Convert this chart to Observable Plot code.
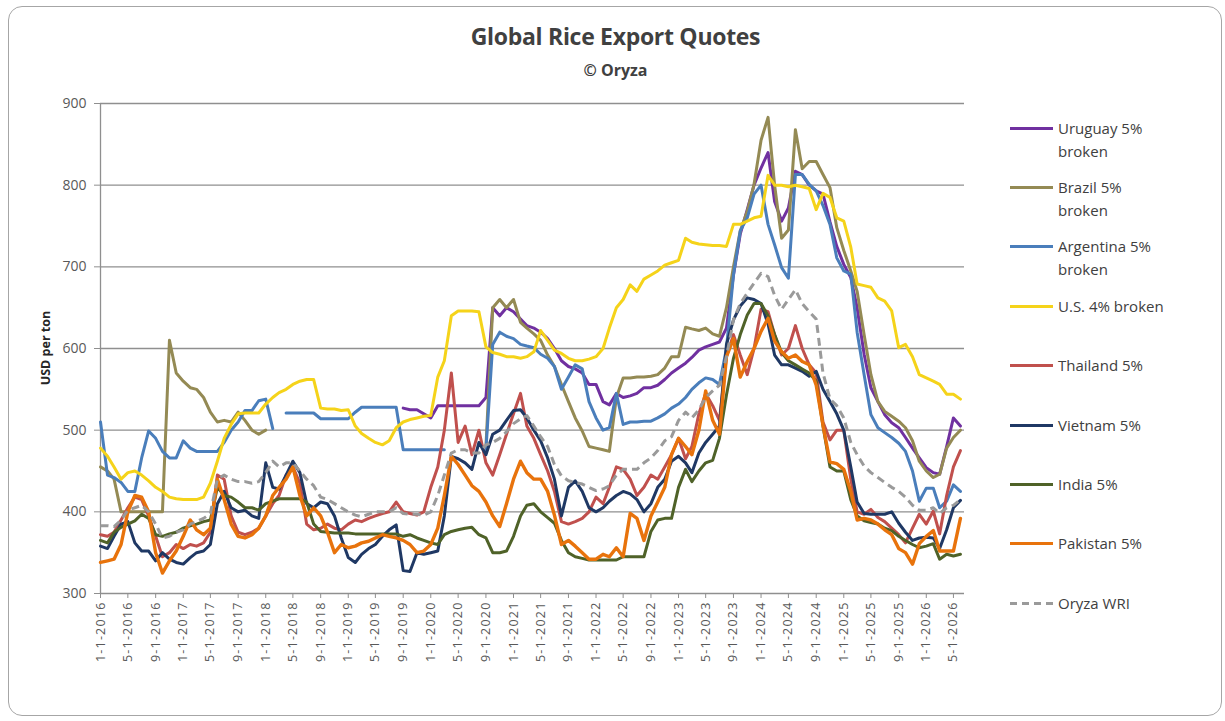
<!DOCTYPE html>
<html>
<head>
<meta charset="utf-8">
<script src="https://cdn.jsdelivr.net/npm/d3@7"></script>
<script src="https://cdn.jsdelivr.net/npm/@observablehq/plot@0.6"></script>
<style>
  html, body { margin: 0; padding: 0; background: #fff; }
  #wrap { position: relative; width: 1225px; height: 721px; overflow: hidden; font-family: "Open Sans", sans-serif; }
  #card { position: absolute; left: 8px; top: 6px; width: 1214px; height: 710px; border: 1px solid #a6a6a6; border-radius: 14px; box-sizing: border-box; }
  #title { position: absolute; left: 0; width: 1231px; top: 20px; text-align: center; font-weight: bold; font-size: 23px; color: #404040; letter-spacing: -0.3px; }
  #subtitle { position: absolute; left: 0; width: 1231px; top: 59px; text-align: center; font-weight: bold; font-size: 16px; color: #404040; }
  #ylabel { position: absolute; left: 45px; top: 348px; transform: translate(-50%, -50%) rotate(-90deg); font-weight: bold; font-size: 12.5px; color: #262626; white-space: nowrap; }
  #chart { position: absolute; left: 0; top: 90px; }
  .leg { position: absolute; left: 1008px; display: flex; align-items: flex-start; }
  .leg svg { flex: none; margin-top: 0; }
  .leg span { display: block; width: 110px; font-size: 15px; line-height: 23px; color: #404040; margin-left: 4px; }
  g[aria-label="x-axis tick label"] text { letter-spacing: 1.2px; }
</style>
</head>
<body>
<div id="wrap">
  <div id="card"></div>
  <div id="title">Global Rice Export Quotes</div>
  <div id="subtitle">© Oryza</div>
  <div id="ylabel">USD per ton</div>
  <div id="chart"></div>
  <div id="legend"></div>
</div>
<script>
const N = null;
// Monthly quotes, Jan 2016 .. Jun 2026 (USD per ton)
const uruguay = [
  N,N,N,N,N,N,N,N,N,N,N,N,
  N,N,N,N,N,N,N,N,N,N,N,N,
  N,N,N,N,N,N,N,N,N,N,N,N,
  N,N,N,N,N,N,N,N,527,525,525,520,
  515,530,530,530,530,530,530,530,540,650,640,650,
  645,636,628,625,620,612,600,585,578,575,570,556,
  556,535,531,545,540,542,545,552,552,555,562,570,
  576,582,589,598,602,605,608,625,690,740,770,800,
  821,840,780,756,772,817,813,800,793,789,755,725,
  703,687,650,593,552,535,519,509,503,491,478,466,
  454,448,446,480,515,505
];
const brazil = [
  455,450,440,400,400,400,400,400,400,400,610,570,
  560,552,550,540,522,510,512,510,522,512,500,495,
  500,N,N,N,N,N,N,N,N,N,N,N,
  N,N,N,N,N,N,N,N,N,N,N,N,
  N,N,N,N,N,N,N,N,480,650,660,650,
  660,632,625,618,610,592,578,556,535,515,499,480,
  478,476,474,540,564,564,565,565,566,568,576,590,
  590,626,624,622,625,618,615,650,700,744,768,801,
  855,883,800,735,745,868,820,829,829,813,797,748,
  720,695,670,617,568,535,523,517,511,503,487,462,
  450,442,446,478,491,500
];
const argentina = [
  510,445,442,436,425,425,466,499,490,474,466,466,
  487,478,474,474,474,474,485,500,510,524,524,536,
  538,502,N,521,521,521,521,521,514,514,514,514,
  514,522,528,528,528,528,528,528,476,476,476,476,
  476,476,476,N,N,N,N,N,476,605,620,615,
  612,605,603,601,593,588,578,550,565,580,575,535,
  515,500,503,545,507,510,510,511,511,515,520,527,
  532,540,550,558,564,562,556,600,690,744,760,789,
  800,752,727,699,686,813,813,801,793,775,752,711,
  695,691,620,568,519,503,497,491,484,474,450,413,
  429,429,405,413,433,425
];
const us = [
  478,468,455,440,448,450,445,438,430,425,418,416,
  415,415,415,418,435,462,490,507,520,521,521,521,
  532,540,546,550,556,560,562,562,527,526,526,524,
  525,505,496,490,485,482,487,503,510,513,515,517,
  518,565,585,640,646,646,646,645,602,595,593,590,
  590,588,590,596,622,610,598,594,588,585,585,587,
  590,600,625,650,660,678,670,685,690,695,702,705,
  708,735,730,728,727,726,726,725,752,752,756,760,
  762,812,800,800,798,800,798,796,770,790,785,760,
  756,724,679,677,675,662,658,646,601,605,590,568,
  564,560,556,544,544,538
];
const thailand = [
  372,370,375,390,405,418,415,395,370,345,350,360,
  355,360,358,362,375,445,440,395,375,372,375,380,
  395,410,420,445,455,435,385,378,380,385,380,378,
  385,390,388,392,395,398,400,412,400,398,396,400,
  430,455,500,570,485,505,470,500,460,445,470,495,
  520,545,505,490,470,450,425,388,385,388,392,400,
  418,410,430,455,452,440,420,430,445,440,455,470,
  490,465,480,520,545,530,512,590,617,592,568,600,
  648,645,617,592,600,628,600,580,570,510,488,500,
  500,440,400,397,403,393,388,380,372,362,380,397,
  385,401,373,420,455,475
];
const vietnam = [
  358,355,370,385,388,362,352,352,340,350,342,338,
  336,344,350,352,360,410,425,405,400,402,395,392,
  460,430,428,445,462,448,410,405,412,410,395,368,
  344,338,348,355,360,370,378,384,328,327,350,348,
  350,352,395,468,465,460,452,485,470,495,500,512,
  524,525,515,500,487,466,440,395,430,438,425,405,
  400,405,413,420,425,422,415,400,410,430,440,462,
  468,460,448,472,485,495,505,605,635,652,662,660,
  655,630,592,580,580,576,572,566,572,550,535,520,
  500,455,412,398,397,397,397,400,386,375,365,368,
  369,368,355,378,405,414
];
const india = [
  365,362,375,381,385,389,397,392,372,370,373,375,
  380,383,385,388,390,430,420,418,412,405,405,402,
  410,413,416,416,416,416,412,385,376,375,374,374,
  374,373,373,373,373,373,373,373,370,372,368,365,
  362,360,372,376,378,380,381,372,368,350,350,352,
  370,395,408,410,400,393,386,365,350,345,343,341,
  341,341,341,341,345,345,345,345,376,390,392,392,
  430,452,437,450,460,463,490,543,588,617,641,655,
  655,640,617,595,585,580,575,570,560,505,455,450,
  450,415,395,389,387,385,380,377,370,365,360,356,
  358,361,342,348,346,348
];
const pakistan = [
  338,340,342,360,400,420,418,400,350,325,340,352,
  370,390,378,372,380,440,415,385,370,368,372,380,
  395,420,430,440,455,420,395,405,395,375,350,360,
  356,358,362,364,368,372,370,368,365,360,350,352,
  360,380,420,468,458,445,432,425,412,395,382,410,
  440,462,448,440,440,425,396,360,365,358,350,342,
  342,348,345,356,345,398,392,365,395,412,430,470,
  490,480,470,500,548,512,495,590,612,565,584,600,
  621,637,609,596,588,592,584,580,555,506,461,459,
  452,425,390,392,390,385,378,372,355,350,336,361,
  370,377,352,352,352,392
];
const wri = [
  383,383,382,390,402,405,408,400,385,368,370,375,
  378,385,388,392,398,440,445,440,437,437,435,437,
  448,462,455,460,460,450,440,432,418,415,410,405,
  400,396,394,397,400,400,400,405,398,397,397,396,
  400,420,445,472,476,476,472,472,482,485,490,498,
  508,514,518,505,492,480,458,444,438,436,434,430,
  426,428,432,445,452,452,452,460,466,475,487,492,
  512,522,515,525,540,548,555,590,635,655,668,680,
  692,688,665,648,660,672,655,645,636,570,538,530,
  515,485,470,456,448,442,436,430,425,418,408,402,
  402,405,398,405,408,415
];

const seriesNames = ["Uruguay 5% broken","Brazil 5% broken","Argentina 5% broken","U.S. 4% broken","Thailand 5%","Vietnam 5%","India 5%","Pakistan 5%","Oryza WRI"];
const seriesValues = [uruguay, brazil, argentina, us, thailand, vietnam, india, pakistan, wri];
const seriesColors = ["#7030A0","#948A54","#4A7EBB","#F5D31A","#C0504D","#1F3864","#4F6228","#E8730C","#9A9A9A"];
const seriesDash = [null,null,null,null,null,null,null,null,"8,5"];
const yTicks = [300,400,500,600,700,800,900];

const start = new Date(Date.UTC(2016,0,1));
const dates = d3.utcMonth.range(start, new Date(Date.UTC(2026,6,1)));
const xEnd = new Date(Date.UTC(2026,5,19));
const tickDates = d3.utcMonth.every(4).range(start, new Date(Date.UTC(2026,5,2)));
const fmt = d => `${d.getUTCMonth()+1}-1-${d.getUTCFullYear()}`;

const lineMarks = seriesValues.map((vals, k) =>
  Plot.line(vals.map((v, i) => ({date: dates[i], value: v})), {
    x: "date", y: "value",
    stroke: seriesColors[k],
    strokeWidth: k === 7 ? 3.4 : 3,
    strokeDasharray: seriesDash[k],
    strokeLinejoin: "round",
    strokeLinecap: seriesDash[k] ? "butt" : "round"
  })
);

const chart = Plot.plot({
  width: 1000,
  height: 590,
  marginLeft: 100,
  marginRight: 36,
  marginTop: 13,
  marginBottom: 87,
  style: {fontFamily: "Open Sans", fontSize: "14px", color: "#595959", background: "transparent"},
  x: {type: "utc", domain: [start, xEnd]},
  y: {domain: [300, 900]},
  marks: [
    Plot.ruleY(yTicks, {stroke: "#8f8f8f", strokeWidth: 1.3}),
    Plot.ruleX([start], {stroke: "#8f8f8f", strokeWidth: 1.3}),
    Plot.axisY({ticks: yTicks, tickSize: 6, tickPadding: 8, label: null, stroke: "#8f8f8f", fill: "#595959", fontSize: 14}),
    Plot.axisX({ticks: tickDates, tickFormat: fmt, tickRotate: -90, tickSize: 5, tickPadding: 3, label: null, stroke: "#8f8f8f", fill: "#595959", fontSize: 12.5}),
    ...lineMarks
  ]
});
document.getElementById("chart").appendChild(chart);

// legend
const legend = document.getElementById("legend");
seriesNames.forEach((name, k) => {
  const row = document.createElement("div");
  row.className = "leg";
  row.style.top = (128 + k * 59.4 - 11.5) + "px";
  const sw = d3.create("svg").attr("width", 46).attr("height", 23);
  sw.append("line").attr("x1", 2).attr("x2", 45).attr("y1", 11.5).attr("y2", 11.5)
    .attr("stroke", seriesColors[k]).attr("stroke-width", 3)
    .attr("stroke-dasharray", seriesDash[k] ? "7,5" : null);
  row.appendChild(sw.node());
  const t = document.createElement("span");
  t.textContent = name;
  row.appendChild(t);
  legend.appendChild(row);
});
</script>
</body>
</html>
